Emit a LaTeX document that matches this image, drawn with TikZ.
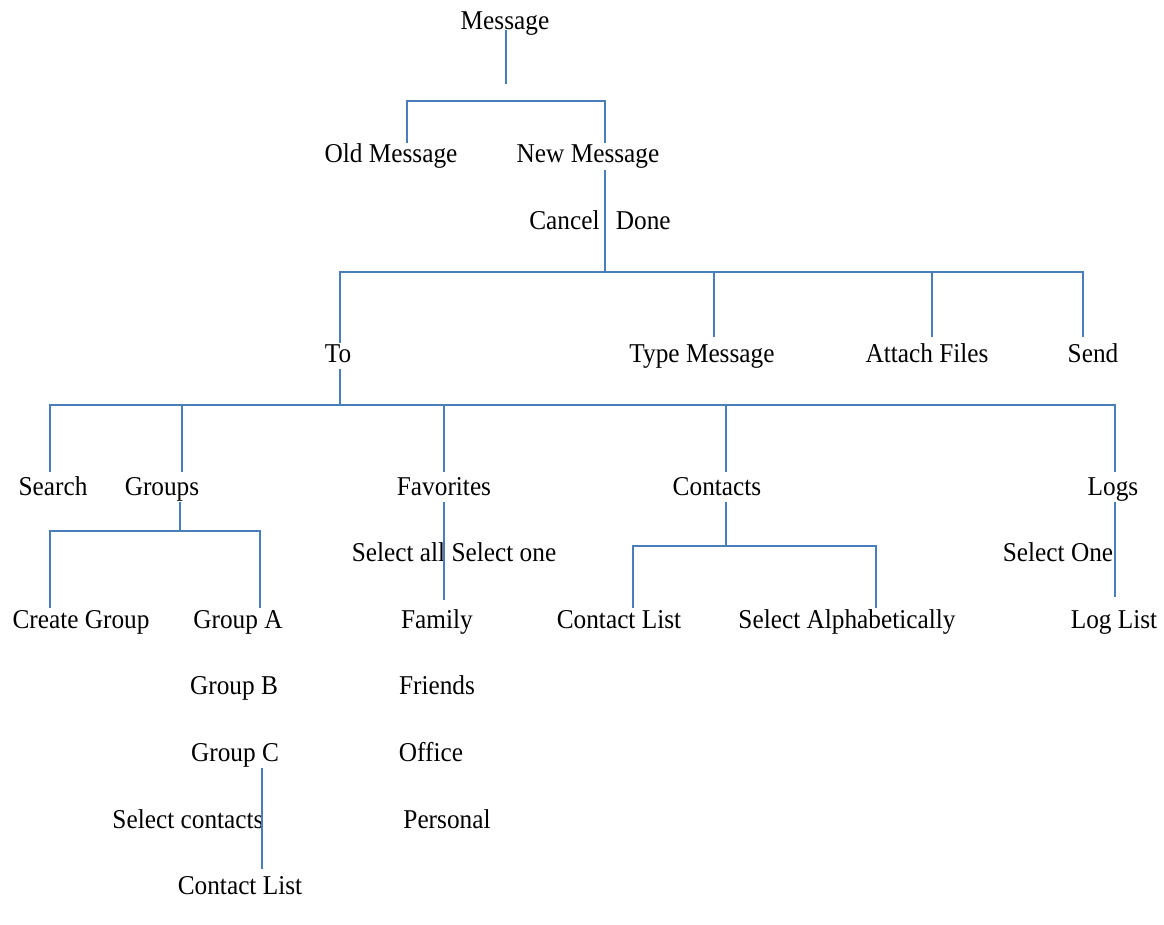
\documentclass[tikz,border=0pt]{standalone}
\usepackage{fontspec}
\setmainfont{Liberation Serif}[FakeStretch=0.93]
\usetikzlibrary{calc,positioning}
\definecolor{linkblue}{RGB}{74,126,187}

\begin{document}
\begin{tikzpicture}[x=0.5pt,y=-0.5pt,node distance=33.25pt,
    lbl/.style={inner sep=0pt,text height=9pt,text depth=3pt,font=\fontsize{13.6}{16}\selectfont},
    link/.style={draw=linkblue,line width=1pt}]
    \useasboundingbox (0,0) rectangle (1164,925);
    \node[lbl] (msg) at (505,24) {Message};
    \node[lbl] (old_msg) at (391,157) {Old Message};
    \node[lbl] (new_msg) at (588,157) {New Message};
    \node[lbl,below of=new_msg,xshift=6pt] (cancel_done) {Cancel\hspace{0.6em}Done};
    \node[lbl] (to) at (338,356.5) {To};
    \node[lbl] (type_msg) at (702,356.5) {Type Message};
    \node[lbl] (attach) at (927,356.5) {Attach Files};
    \node[lbl] (send) at (1093,356.5) {Send};
    \node[lbl] (search) at (53,489.5) {Search};
    \node[lbl] (groups) at (162,489.5) {Groups};
    \node[lbl] (fav) at (444,489.5) {Favorites};
    \node[lbl] (contacts) at (717,489.5) {Contacts};
    \node[lbl] (logs) at (1113,489.5) {Logs};
    \node[lbl,below of=fav,xshift=5pt] (sel_all) {Select all Select one};
    \node[lbl,below of=logs,xshift=-27.5pt] (sel_one) {Select One};
    \node[lbl] (create) at (81,622.5) {Create Group};
    \node[lbl] (group_a) at (238,622.5) {Group A};
    \node[lbl] (family) at (437,622.5) {Family};
    \node[lbl] (contact_list) at (619,622.5) {Contact List};
    \node[lbl] (alpha) at (847,622.5) {Select Alphabetically};
    \node[lbl] (log_list) at (1114,622.5) {Log List};
    \node[lbl,below of=group_a,xshift=-2pt] (group_b) {Group B};
    \node[lbl,below of=family] (friends) {Friends};
    \node[lbl,below of=group_b,xshift=0.5pt] (group_c) {Group C};
    \node[lbl,below of=friends,xshift=-3pt] (office) {Office};
    \node[lbl,below of=group_c,xshift=-23.5pt] (sel_contacts) {Select contacts};
    \node[lbl,below of=office,xshift=8pt] (personal) {Personal};
    \node[lbl,below of=sel_contacts,xshift=26pt] (contact_list2) {Contact List};
    %

    \draw[link] ($(msg)+(1,6)$) -- ++(0,54);
    \draw[link] ($(old_msg.north)+(16,-2)$) -- ++(0,-42) -| ($(new_msg.north)+(17,-2)$);
    \draw[link] ($(new_msg.south)+(17,1)$) -- ++(0,102) coordinate (bus);
    \draw[link] (bus) -| ($(to.north)+(2,-1)$);
    \draw[link] (bus) -| ($(type_msg.north)+(12,-7)$);
    \draw[link] (bus) -| ($(attach.north)+(5,-7)$);
    \draw[link] (bus) -| ($(send.north)+(-10,-7)$);
    \draw[link] ($(to.south)+(2,0)$) -- ++(0,36) coordinate (to_bus);
    \foreach \n/\dx in {search/-3,groups/20,fav/0,contacts/9,logs/2}
        \draw[link] (to_bus) -| ($(\n.north)+(\dx,-5)$);
    \draw[link] ($(groups.south)+(18,0)$) -- ++(0,29) coordinate (grp_bus);
    \draw[link] (grp_bus) -| ($(create.north)+(-31,-2)$);
    \draw[link] (grp_bus) -| ($(group_a.north)+(22,-2)$);
    \draw[link] (fav.south) -- ($(family.north)+(7,-10)$);
    \draw[link] ($(contacts.south)+(9,0)$) -- ++(0,44) coordinate (con_bus);
    \draw[link] (con_bus) -| ($(contact_list.north)+(14,-2)$);
    \draw[link] (con_bus) -| ($(alpha.north)+(29,-2)$);
    \draw[link] ($(logs.south)+(2,0)$) -- ($(log_list.north)+(1,-13)$);
    \draw[link] ($(group_c.south)+(27,0)$) -- ($(contact_list2.north)+(22,-7)$);
\end{tikzpicture}
\end{document}
